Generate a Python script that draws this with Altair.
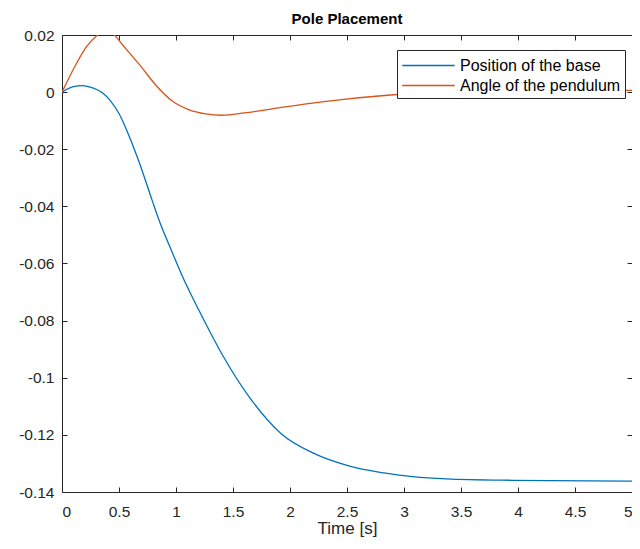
import altair as alt
import pandas as pd

# Position of the base (cart)
pos_t = [0, 0.1, 0.18, 0.24, 0.3, 0.36, 0.42, 0.5, 0.6, 0.68, 0.79, 0.85, 0.97, 1.07, 1.2, 1.4, 1.64, 1.92,
         2.21, 2.5, 2.94, 3.37, 3.95, 5.0]
pos_y = [0, 0.0019, 0.0023, 0.0018, 0.0010, -0.0004, -0.0028, -0.0075, -0.0165, -0.0249, -0.0378, -0.0447,
         -0.0564, -0.0657, -0.0763, -0.0915, -0.1066, -0.1195, -0.1265, -0.1307, -0.1340, -0.1354, -0.1359,
         -0.1362]

# Angle of the pendulum
ang_t = [0, 0.128, 0.215, 0.30, 0.38, 0.45, 0.53, 0.68, 0.82, 0.97, 1.11, 1.26, 1.40, 1.60, 1.9, 2.3, 2.88,
         3.5, 4.0, 5.0]
ang_y = [0, 0.0101, 0.0159, 0.0196, 0.0212, 0.0203, 0.0166, 0.0096, 0.0026, -0.0032, -0.0061, -0.0076,
         -0.0081, -0.0073, -0.0055, -0.0033, -0.0010, 0.0002, 0.0005, 0.0006]

series = ["Position of the base", "Angle of the pendulum"]
colors = ["#0072BD", "#D95319"]
x_ticks = [0, 0.5, 1, 1.5, 2, 2.5, 3, 3.5, 4, 4.5, 5]
y_ticks = [0.02, 0, -0.02, -0.04, -0.06, -0.08, -0.1, -0.12, -0.14]

df = pd.concat([
    pd.DataFrame({"t": pos_t, "v": pos_y, "s": series[0]}),
    pd.DataFrame({"t": ang_t, "v": ang_y, "s": series[1]}),
])

W, H = 570, 457
FONT = "Liberation Sans"
AX = "#262626"
ylab = "(datum.value < 0 ? '-' : '') + format(abs(datum.value), '~g')"

xs = alt.Scale(domain=[0, 5], nice=False, zero=False)
ys = alt.Scale(domain=[-0.14, 0.02], nice=False, zero=False)

base = alt.Chart(df)

lines = base.mark_line(clip=True, strokeWidth=1.3, interpolate="monotone").encode(
    x=alt.X("t:Q", scale=xs, title="Time [s]",
            axis=alt.Axis(orient="bottom", values=x_ticks, format="~g", ticks=False, grid=False,
                          domainColor=AX, labelColor=AX, labelFont=FONT, labelFontSize=15.5,
                          labelPadding=12, titleFont=FONT, titleFontSize=17, titleFontWeight="normal",
                          titleColor=AX, titlePadding=1)),
    y=alt.Y("v:Q", scale=ys, title=None,
            axis=alt.Axis(orient="left", values=y_ticks, labelExpr=ylab, ticks=False, grid=False,
                          domainColor=AX, labelColor=AX, labelFont=FONT, labelFontSize=15.5,
                          labelPadding=8)),
    color=alt.Color("s:N", scale=alt.Scale(domain=series, range=colors), sort=series,
                    legend=alt.Legend(title=None, orient="none", legendX=335, legendY=15,
                                      symbolType="M-2.5,0H2.5", symbolSize=441, symbolStrokeWidth=1.3,
                                      symbolOffset=16, labelOffset=20, labelLimit=400,
                                      labelFont=FONT, labelFontSize=16, labelColor="#000000",
                                      strokeColor=AX, fillColor="white", padding=4, rowPadding=0,
                                      cornerRadius=0)),
    detail="s:N",
)

# inward ticks on bottom (via a top-oriented axis moved to the bottom) and left
inner1 = base.mark_line(opacity=0).encode(
    x=alt.X("t:Q", scale=xs, title=None,
            axis=alt.Axis(orient="top", offset=-H, values=x_ticks, labels=False, domain=False,
                          grid=False, tickColor=AX, tickSize=5)),
    y=alt.Y("v:Q", scale=ys, title=None,
            axis=alt.Axis(orient="right", offset=-W, values=y_ticks, labels=False, domain=False,
                          grid=False, tickColor=AX, tickSize=5)),
)

# top and right frame lines with inward ticks
inner2 = base.mark_line(opacity=0).encode(
    x=alt.X("t:Q", scale=xs, title=None,
            axis=alt.Axis(orient="bottom", offset=-H, values=x_ticks, labels=False, domain=True,
                          domainColor=AX, grid=False, tickColor=AX, tickSize=5)),
    y=alt.Y("v:Q", scale=ys, title=None,
            axis=alt.Axis(orient="left", offset=-W, values=y_ticks, labels=False, domain=True,
                          domainColor=AX, grid=False, tickColor=AX, tickSize=5)),
)

chart = alt.layer(lines, inner1, inner2).resolve_axis(x="independent", y="independent").properties(
    width=W, height=H,
    title=alt.Title("Pole Placement", font=FONT, fontSize=15, fontWeight="bold", color="#000000",
                    anchor="middle", offset=1),
    autosize=alt.AutoSizeParams(type="none"),
    padding={"left": 54, "top": 27, "right": 0, "bottom": 49},
).configure_view(stroke=None).configure(background="white")

chart.save("out.html", embed_options={"renderer": "svg", "actions": False})
